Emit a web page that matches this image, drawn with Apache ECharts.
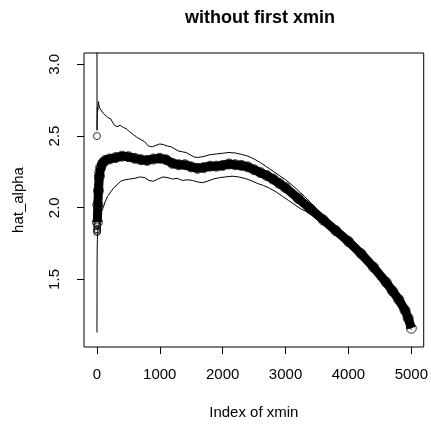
<!DOCTYPE html>
<html><head><meta charset="utf-8">
<script src="https://cdn.jsdelivr.net/npm/echarts@6/dist/echarts.min.js"></script>
<style>html,body{margin:0;padding:0;background:#fff}#c{width:431px;height:426px}</style>
</head><body><div id="c"></div>
<script>
const titleText = "without first xmin";
const xName = "Index of xmin";
const yName = "hat_alpha";
const xTicks = [0, 1000, 2000, 3000, 4000, 5000];
const yTicks = [1.5, 2.0, 2.5, 3.0];

// hat_alpha estimates (dense open circles form a thick band)
const mainIdx = [8, 15, 25, 40, 60, 90, 130, 200, 300, 400, 500, 600, 700, 800, 900, 1000, 1100, 1200, 1300, 1400, 1500, 1600, 1700, 1800, 1900, 2000, 2100, 2200, 2300, 2400, 2500, 2600, 2700, 2800, 2900, 3000, 3200, 3400, 3600, 3800, 4000, 4200, 4400, 4600, 4700, 4800, 4900, 4950, 5000];
const mainVal = [1.90, 2.02, 2.12, 2.22, 2.28, 2.31, 2.33, 2.34, 2.35, 2.36, 2.356, 2.345, 2.335, 2.33, 2.34, 2.345, 2.335, 2.31, 2.30, 2.30, 2.285, 2.275, 2.28, 2.29, 2.29, 2.295, 2.305, 2.30, 2.295, 2.285, 2.265, 2.245, 2.225, 2.20, 2.17, 2.14, 2.065, 1.99, 1.915, 1.84, 1.765, 1.68, 1.585, 1.48, 1.42, 1.36, 1.285, 1.23, 1.16];

// individually visible circles at the very start
const earlyIdx = [1, 2, 3, 4, 5, 6, 7, 8, 9, 10, 11, 12, 14, 16, 18, 20];
const earlyVal = [2.50, 1.83, 1.85, 1.87, 1.84, 1.90, 1.88, 1.93, 1.96, 2.00, 1.98, 2.05, 2.10, 2.16, 2.20, 2.25];

// upper band
const upIdx = [1, 2, 4, 8, 15, 25, 35, 50, 70, 100, 130, 170, 220, 270, 320, 370, 420, 470, 520, 580, 640, 700, 760, 820, 880, 940, 1000, 1060, 1120, 1180, 1240, 1300, 1360, 1420, 1480, 1540, 1600, 1660, 1720, 1800, 1900, 2000, 2100, 2200, 2300, 2400, 2500, 2600, 2700, 2800, 2900, 3000, 3100, 3200, 3300, 3400, 3500, 3600, 3800, 4000, 4200, 4400, 4600, 4800, 4900, 5000];
const upVal = [3.40, 2.54, 2.62, 2.70, 2.68, 2.74, 2.71, 2.69, 2.70, 2.66, 2.67, 2.63, 2.62, 2.58, 2.565, 2.575, 2.56, 2.55, 2.53, 2.51, 2.49, 2.475, 2.46, 2.43, 2.425, 2.435, 2.445, 2.44, 2.43, 2.425, 2.41, 2.395, 2.39, 2.385, 2.37, 2.355, 2.35, 2.355, 2.36, 2.37, 2.375, 2.38, 2.385, 2.382, 2.372, 2.36, 2.34, 2.315, 2.285, 2.255, 2.225, 2.195, 2.16, 2.12, 2.08, 2.035, 1.99, 1.94, 1.86, 1.78, 1.695, 1.60, 1.495, 1.375, 1.30, 1.175];

// lower band
const lowIdx = [1, 2, 3, 5, 8, 12, 20, 35, 50, 70, 100, 130, 170, 220, 270, 320, 380, 450, 520, 600, 680, 760, 830, 900, 970, 1050, 1130, 1200, 1280, 1360, 1440, 1520, 1600, 1680, 1760, 1850, 1950, 2050, 2150, 2250, 2350, 2450, 2550, 2650, 2750, 2850, 2950, 3050, 3150, 3250, 3350, 3500, 3700, 3900, 4100, 4300, 4500, 4700, 4900, 5000];
const lowVal = [1.13, 1.45, 1.62, 1.72, 1.78, 1.82, 1.86, 1.88, 1.92, 1.97, 2.00, 2.04, 2.08, 2.11, 2.14, 2.16, 2.185, 2.195, 2.20, 2.205, 2.215, 2.21, 2.19, 2.185, 2.20, 2.215, 2.21, 2.20, 2.205, 2.19, 2.195, 2.19, 2.18, 2.175, 2.185, 2.20, 2.21, 2.215, 2.22, 2.215, 2.205, 2.19, 2.17, 2.155, 2.135, 2.11, 2.08, 2.05, 2.02, 1.99, 1.97, 1.92, 1.85, 1.775, 1.70, 1.615, 1.52, 1.41, 1.27, 1.15];

const zip = (a, b) => a.map((v, i) => [v, b[i]]);
const FONT = '"Liberation Sans", Arial, sans-serif';

const chart = echarts.init(document.getElementById('c'), null, {renderer: 'canvas'});
chart.setOption({
  animation: false,
  backgroundColor: '#fff',
  title: {
    text: titleText, left: 255, top: 4, textAlign: 'center',
    textStyle: {fontFamily: FONT, fontSize: 18, fontWeight: 'bold', color: '#000'}
  },
  grid: {left: 84, top: 53, right: 4, bottom: 79, show: true, borderColor: '#000', borderWidth: 1, backgroundColor: 'transparent'},
  xAxis: {
    type: 'value', min: -205, max: 5197,
    name: xName, nameLocation: 'middle', nameGap: 58,
    nameTextStyle: {fontFamily: FONT, fontSize: 15, color: '#000'},
    axisLine: {show: false, onZero: false},
    axisTick: {show: true, length: 7, lineStyle: {color: '#000'}, customValues: xTicks},
    axisLabel: {customValues: xTicks, margin: 20, fontFamily: FONT, fontSize: 15, color: '#000',
      formatter: v => String(Math.round(v))},
    splitLine: {show: false}
  },
  yAxis: {
    type: 'value', min: 1.029, max: 3.079,
    name: yName, nameLocation: 'middle', nameGap: 58,
    nameTextStyle: {fontFamily: FONT, fontSize: 15, color: '#000'},
    axisLine: {show: false, onZero: false},
    axisTick: {show: true, length: 7, lineStyle: {color: '#000'}, customValues: yTicks},
    axisLabel: {customValues: yTicks, rotate: 90, margin: 22, fontFamily: FONT, fontSize: 15, color: '#000',
      formatter: v => Number(v).toFixed(1)},
    splitLine: {show: false}
  },
  series: [
    {type: 'line', data: zip(upIdx, upVal), showSymbol: false, clip: true,
     lineStyle: {color: '#000', width: 1}},
    {type: 'line', data: zip(lowIdx, lowVal), showSymbol: false, clip: true,
     lineStyle: {color: '#000', width: 1}},
    {type: 'line', data: zip(mainIdx, mainVal), showSymbol: false, clip: true,
     lineStyle: {color: '#000', width: 9}},
    {type: 'scatter', data: zip(mainIdx, mainVal), symbol: 'circle', symbolSize: 10, clip: true,
     itemStyle: {color: 'rgba(0,0,0,0)', borderColor: '#000', borderWidth: 1}},
    {type: 'scatter', data: zip(earlyIdx, earlyVal), symbol: 'circle', symbolSize: 7, clip: true,
     itemStyle: {color: 'rgba(0,0,0,0)', borderColor: '#000', borderWidth: 1}}
  ]
});
</script></body></html>
